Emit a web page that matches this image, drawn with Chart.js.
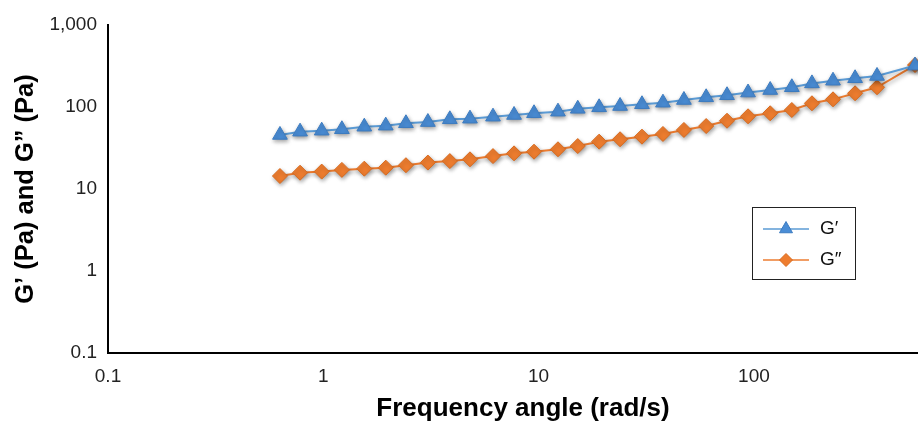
<!DOCTYPE HTML>
<html>
<head>
    <script src="https://cdn.jsdelivr.net/npm/chart.js@4.4.1/dist/chart.umd.min.js"></script>
    <style>
        html, body { margin: 0; background: #fff; overflow: hidden; }
    </style>
</head>
<body>
<!-- the original figure is cropped on the right, so the canvas runs a little past the window -->
<canvas id="rheo-chart" width="938" height="422"></canvas>

<script>
    // frequency (rad/s)
    var freq = [0.629, 0.780, 0.983, 1.22, 1.55, 1.95, 2.42, 3.06, 3.87, 4.80,
                6.14, 7.69, 9.52, 12.3, 15.2, 19.1, 23.9, 30.2, 37.8, 47.3,
                60.0, 75.0, 93.9, 119, 150, 186, 233, 295, 373, 560];
    // storage modulus G' (Pa)
    var gPrime = [45.6, 50.0, 51.4, 53.5, 57.5, 59.2, 63.3, 65.5, 70.8, 72.0,
                  76.2, 79.9, 83.8, 87.7, 95.0, 99.1, 102.8, 107.9, 112.8, 121.7,
                  131.3, 139, 150, 161, 174, 194, 209, 224, 239, 320];
    // loss modulus G'' (Pa)
    var gDouble = [14.4, 15.8, 16.3, 17.1, 17.7, 18.2, 19.5, 21.0, 21.9, 23.0,
                   25.2, 27.2, 28.5, 30.5, 33.4, 37.8, 40.4, 43.5, 46.9, 52.5,
                   58.6, 68, 77, 83.8, 91.9, 111, 124, 147, 174, 325];
    var xTicks = [0.1, 1, 10, 100];
    var yTicks = [0.1, 1, 10, 100, 1000];

    function toPoints(ys) {
        return freq.map(function (f, i) { return {x: f, y: ys[i]}; });
    }

    var blue = '#5B9BD5';
    var orange = '#ED7D31';
    var fontFam = '"Liberation Sans", Arial, sans-serif';

    // soft drop shadow under lines and markers, like the original
    var shadowPlugin = {
        id: 'shadow',
        beforeDatasetsDraw: function (chart) {
            var ctx = chart.ctx;
            ctx.save();
            ctx.shadowColor = 'rgba(0,0,0,0.35)';
            ctx.shadowBlur = 4;
            ctx.shadowOffsetX = 1;
            ctx.shadowOffsetY = 2;
        },
        afterDatasetsDraw: function (chart) {
            chart.ctx.restore();
        }
    };

    // boxed legend inside the plot
    var boxLegend = {
        id: 'boxLegend',
        afterDraw: function (chart) {
            var ctx = chart.ctx;
            ctx.save();
            ctx.strokeStyle = '#222';
            ctx.lineWidth = 1;
            ctx.strokeRect(752.5, 207.5, 103, 72);
            var rows = [{y: 229, ds: chart.data.datasets[0]}, {y: 260, ds: chart.data.datasets[1]}];
            rows.forEach(function (r) {
                ctx.strokeStyle = r.ds.borderColor;
                ctx.lineWidth = 1.5;
                ctx.beginPath();
                ctx.moveTo(763, r.y);
                ctx.lineTo(809, r.y);
                ctx.stroke();
                ctx.fillStyle = r.ds.pointBackgroundColor;
                ctx.strokeStyle = r.ds.pointBorderColor;
                ctx.lineWidth = 1;
                Chart.helpers.drawPoint(ctx, {
                    pointStyle: r.ds.pointStyle,
                    rotation: 0,
                    radius: r.ds.pointRadius - 1,
                    borderWidth: 1
                }, 786, r.y);
                ctx.fillStyle = '#111';
                ctx.font = '19px ' + fontFam;
                ctx.textBaseline = 'middle';
                ctx.fillText(r.ds.label, 820, r.y);
            });
            ctx.restore();
        }
    };

    new Chart(document.getElementById('rheo-chart'), {
        type: 'line',
        data: {
            datasets: [{
                label: 'G\u2032',
                data: toPoints(gPrime),
                borderColor: blue,
                borderWidth: 2,
                pointStyle: 'triangle',
                pointRadius: 8.5,
                pointBackgroundColor: '#4A8DD6',
                pointBorderColor: '#3C7BC0',
                pointBorderWidth: 1,
                fill: false
            }, {
                label: 'G\u2033',
                data: toPoints(gDouble),
                borderColor: orange,
                borderWidth: 2,
                pointStyle: 'rectRot',
                pointRadius: 7.5,
                pointBackgroundColor: '#EE7D2F',
                pointBorderColor: '#D76A1E',
                pointBorderWidth: 1,
                fill: false
            }]
        },
        options: {
            responsive: false,
            animation: false,
            layout: {autoPadding: false, padding: {top: 25, right: 0, left: 0, bottom: 0}},
            plugins: {
                legend: {display: false},
                tooltip: {enabled: false}
            },
            scales: {
                x: {
                    type: 'logarithmic',
                    min: 0.1,
                    max: 716,
                    grid: {display: false, drawTicks: false},
                    border: {display: true, color: '#000', width: 2},
                    afterBuildTicks: function (scale) {
                        scale.ticks = xTicks.map(function (v) { return {value: v}; });
                    },
                    afterFit: function (scale) { scale.height = 69; },
                    ticks: {
                        color: '#222',
                        padding: 12,
                        maxRotation: 0,
                        font: {family: fontFam, size: 19},
                        callback: function (v) { return v.toLocaleString('en-US'); }
                    },
                    title: {
                        display: true,
                        text: 'Frequency angle (rad/s)',
                        color: '#000',
                        padding: {top: 0, bottom: -2},
                        font: {family: fontFam, size: 26, weight: 'bold'}
                    }
                },
                y: {
                    type: 'logarithmic',
                    min: 0.1,
                    max: 1000,
                    grid: {display: false, drawTicks: false},
                    border: {display: true, color: '#000', width: 2},
                    afterBuildTicks: function (scale) {
                        scale.ticks = yTicks.map(function (v) { return {value: v}; });
                    },
                    afterFit: function (scale) { scale.width = 108; },
                    ticks: {
                        color: '#222',
                        padding: 11,
                        font: {family: fontFam, size: 19},
                        callback: function (v) { return v.toLocaleString('en-US'); }
                    },
                    title: {
                        display: true,
                        text: 'G\u2019 (Pa) and G\u201D (Pa)',
                        color: '#000',
                        padding: {top: 11, bottom: 0},
                        font: {family: fontFam, size: 25.5, weight: 'bold'}
                    }
                }
            }
        },
        plugins: [shadowPlugin, boxLegend]
    });
</script>

</body>
</html>
